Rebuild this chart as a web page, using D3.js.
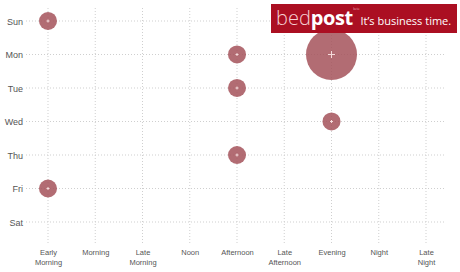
<!DOCTYPE html>
<html>
<head>
<meta charset="utf-8">
<script src="https://cdn.jsdelivr.net/npm/d3@7"></script>
<style>
  html, body { margin: 0; padding: 0; background: #fff; }
  svg { display: block; font-family: "Open Sans", "DejaVu Sans", sans-serif; }
</style>
</head>
<body>
<svg id="chart" width="460" height="272"></svg>
<script>
// ---- data ----
const timeSlots = ["Early Morning", "Morning", "Late Morning", "Noon", "Afternoon",
                   "Late Afternoon", "Evening", "Night", "Late Night"];
const days = ["Sun", "Mon", "Tue", "Wed", "Thu", "Fri", "Sat"];
const pointDays  = ["Sun", "Mon", "Mon", "Tue", "Wed", "Thu", "Fri"];
const pointSlots = ["Early Morning", "Afternoon", "Evening", "Afternoon", "Evening", "Afternoon", "Early Morning"];
const pointCounts = [1, 1, 8, 1, 1, 1, 1];

const points = pointDays.map((d, i) => ({ day: d, slot: pointSlots[i], count: pointCounts[i] }));

const svg = d3.select("#chart");

const x = d3.scalePoint().domain(timeSlots).range([48, 426]);
const y = d3.scalePoint().domain(days).range([21, 222]);
const r = d3.scaleSqrt().domain([0, 8]).range([0, 25.5]);

const grid = svg.append("g").attr("class", "grid");
grid.selectAll("line.v").data(timeSlots).join("line")
  .attr("x1", d => x(d)).attr("x2", d => x(d))
  .attr("y1", 8).attr("y2", 243)
  .attr("stroke", "#cfcfcf").attr("stroke-width", 1)
  .attr("stroke-dasharray", "1,2");
grid.selectAll("line.h").data(days).join("line")
  .attr("x1", 26).attr("x2", 444)
  .attr("y1", d => y(d)).attr("y2", d => y(d))
  .attr("stroke", "#cfcfcf").attr("stroke-width", 1)
  .attr("stroke-dasharray", "1,2");

// y axis
const yAxis = svg.append("g").attr("transform", "translate(23,0)")
  .call(d3.axisLeft(y).tickSize(0).tickPadding(0));
yAxis.select(".domain").remove();
yAxis.selectAll("text").attr("fill", "#555").style("font-size", "9px")
  .attr("dy", "0.35em");

// x axis
const xAxis = svg.append("g").attr("transform", "translate(0,246)")
  .call(d3.axisBottom(x).tickSize(0).tickPadding(0).tickFormat(""));
xAxis.select(".domain").remove();
xAxis.selectAll(".tick").each(function(d) {
  const words = d.split(" ");
  const t = d3.select(this).append("text")
    .attr("fill", "#555").style("font-size", "7.5px")
    .attr("text-anchor", "middle");
  words.forEach((w, i) => {
    t.append("tspan").attr("x", 0).attr("y", 9 + i * 10).text(w);
  });
});

// bubbles
const bubbles = svg.append("g").selectAll("g").data(points).join("g")
  .attr("transform", d => `translate(${x(d.slot)},${y(d.day)})`);
bubbles.append("circle")
  .attr("r", d => r(d.count))
  .attr("fill", "#a5525b").attr("fill-opacity", 0.85);
bubbles.append("path")
  .attr("d", d => { const s = d.count > 2 ? 3.5 : 1.5; return `M${-s},0H${s}M0,${-s}V${s}`; })
  .attr("stroke", "#f4dada").attr("stroke-width", 1);

// banner
const banner = svg.append("g");
banner.append("rect").attr("x", 271).attr("y", 4).attr("width", 186).attr("height", 29)
  .attr("fill", "#ab0f22");
const logo = banner.append("text").attr("x", 276).attr("y", 25)
  .style("font-size", "20px").attr("fill", "#fff");
logo.append("tspan").text("bed").style("font-weight", 300).attr("fill", "#f6d2d5");
logo.append("tspan").text("post").style("font-weight", 700).attr("letter-spacing", "-0.4");
banner.append("text").attr("x", 353.2).attr("y", 9.5).text("beta")
  .style("font-size", "3px").attr("fill", "#e9a6ad");
banner.append("text").attr("x", 360.5).attr("y", 25).text("It\u2019s business time.")
  .style("font-size", "11px").attr("fill", "#fff");
</script>
</body>
</html>
